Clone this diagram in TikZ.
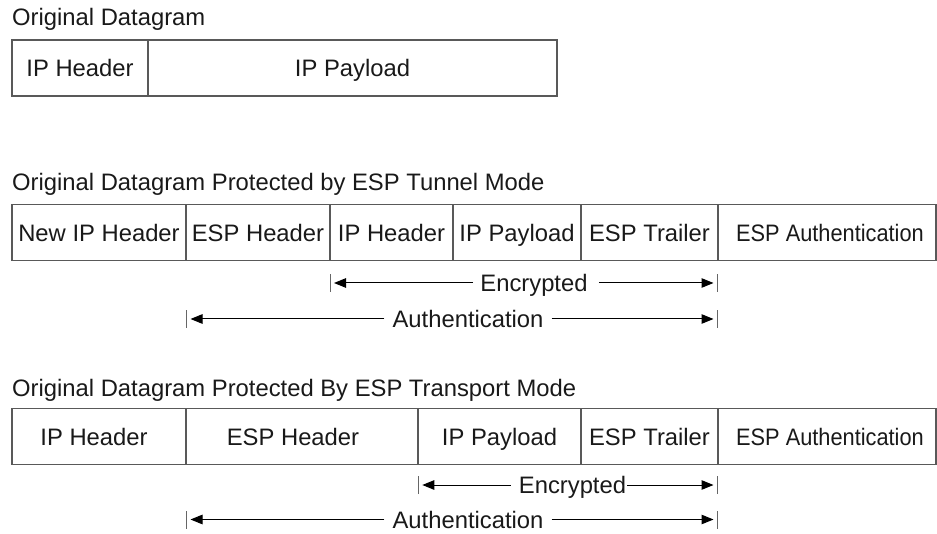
\documentclass[tikz,border=0pt]{standalone}
\usepackage{fontspec}
\setmainfont{Liberation Sans}
\usepackage{graphicx}
\usetikzlibrary{arrows.meta}
\begin{document}
\begin{tikzpicture}[x=1pt,y=-1pt,
  every node/.style={font=\fontsize{23.8}{28}\selectfont, text=black!90},
  cell/.style={draw=black!65, line width=1.3pt, minimum height=56pt, inner sep=0pt, outer sep=0pt, text height=17pt, text depth=0pt},
  title/.style={anchor=base west, inner sep=0pt},
  lbl/.style={inner ysep=0pt, inner xsep=8pt, text height=17pt, text depth=0pt},
  arr/.style={draw=black, line width=1pt, -{Triangle[length=12pt,width=9.5pt]}},
  tick/.style={draw=black!60, line width=1pt}]
\useasboundingbox (0,0) rectangle (937,534);

% Row 1
\node[title] (t1) at (12,26) {Original Datagram};
\node[cell, minimum width=136pt] (a1) at (80,68) {IP Header};
\node[cell, minimum width=409pt] (a2) at (352.5,68) {IP Payload};

% Row 2 : tunnel mode
\node[title] (t2) at (12,191) {Original Datagram Protected by ESP Tunnel Mode};
\node[cell, minimum width=174pt] (b1) at (99,232.8) {New IP Header};
\node[cell, minimum width=144pt] (b2) at (258,232.8) {ESP Header};
\node[cell, minimum width=123pt] (b3) at (391.5,232.8) {IP Header};
\node[cell, minimum width=128pt] (b4) at (517,232.8) {IP Payload};
\node[cell, minimum width=137pt] (b5) at (649.5,232.8) {ESP Trailer};
\node[cell, minimum width=218pt] (b6) at (827,232.8) {\hspace*{6pt}\scalebox{0.915}[1]{ESP Authentication}};

\coordinate (e2a) at (330,283);
\coordinate (e2b) at (717.5,283);
\node[lbl] (e2) at (534,283) {Encrypted};
\draw[arr] ([xshift=1pt]e2.west) -- ([xshift=4pt]e2a);
\draw[arr] ([xshift=3pt]e2.east) -- ([xshift=-4pt]e2b);
\draw[tick] ([yshift=-9pt]e2a) -- ([yshift=9pt]e2a);
\draw[tick] ([yshift=-9pt]e2b) -- ([yshift=9pt]e2b);

\coordinate (u2a) at (186.5,319);
\coordinate (u2b) at (717.5,319);
\node[lbl] (u2) at (468,319) {Authentication};
\draw[arr] (u2.west) -- ([xshift=4pt]u2a);
\draw[arr] (u2.east) -- ([xshift=-4pt]u2b);
\draw[tick] ([yshift=-9pt]u2a) -- ([yshift=9pt]u2a);
\draw[tick] ([yshift=-9pt]u2b) -- ([yshift=9pt]u2b);

% Row 3 : transport mode
\node[title] (t3) at (12,396) {Original Datagram Protected By ESP Transport Mode};
\node[cell, minimum width=174pt] (c1) at (99,436.8) {\hspace*{-10pt}IP Header};
\node[cell, minimum width=232pt] (c2) at (302,436.8) {\hspace*{-18pt}ESP Header};
\node[cell, minimum width=163pt] (c3) at (499.5,436.8) {IP Payload};
\node[cell, minimum width=137pt] (c4) at (649.5,436.8) {ESP Trailer};
\node[cell, minimum width=218pt] (c5) at (827,436.8) {\hspace*{6pt}\scalebox{0.915}[1]{ESP Authentication}};

\coordinate (e3a) at (418.3,485);
\coordinate (e3b) at (717.5,485);
\node[lbl] (e3) at (572.5,485) {Encrypted};
\draw[arr] (e3.west) -- ([xshift=4pt]e3a);
\draw[arr] ([xshift=-7pt]e3.east) -- ([xshift=-4pt]e3b);
\draw[tick] ([yshift=-9pt]e3a) -- ([yshift=9pt]e3a);
\draw[tick] ([yshift=-9pt]e3b) -- ([yshift=9pt]e3b);

\coordinate (u3a) at (186.5,519.5);
\coordinate (u3b) at (717.5,519.5);
\node[lbl] (u3) at (468,519.5) {Authentication};
\draw[arr] (u3.west) -- ([xshift=4pt]u3a);
\draw[arr] (u3.east) -- ([xshift=-4pt]u3b);
\draw[tick] ([yshift=-9pt]u3a) -- ([yshift=9pt]u3a);
\draw[tick] ([yshift=-9pt]u3b) -- ([yshift=9pt]u3b);
\end{tikzpicture}
\end{document}
